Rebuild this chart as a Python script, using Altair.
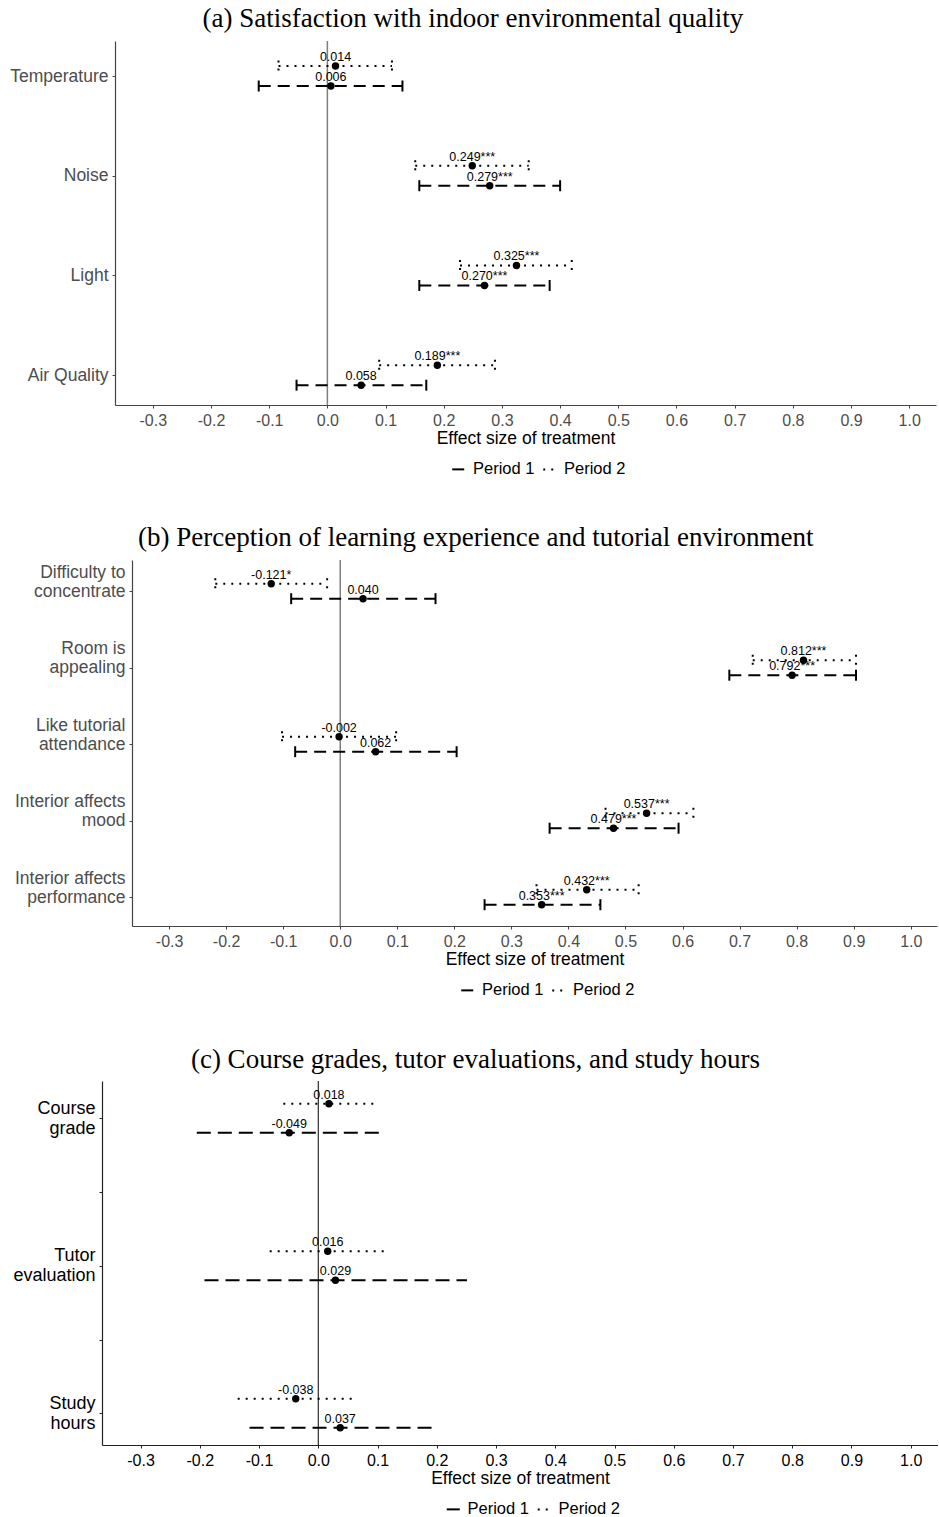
import altair as alt
import pandas as pd

PERIODS = ["Period 1", "Period 2"]

# (a) Satisfaction with indoor environmental quality
a_items = ["Temperature", "Noise", "Light", "Air Quality"]
a_p1_est = [0.006, 0.279, 0.270, 0.058]
a_p1_lo = [-0.118, 0.158, 0.158, -0.053]
a_p1_hi = [0.129, 0.400, 0.382, 0.170]
a_p1_sig = ["", "***", "***", ""]
a_p2_est = [0.014, 0.249, 0.325, 0.189]
a_p2_lo = [-0.084, 0.151, 0.228, 0.089]
a_p2_hi = [0.111, 0.346, 0.420, 0.288]
a_p2_sig = ["", "***", "***", "***"]

# (b) Perception of learning experience and tutorial environment
b_items = ["Difficulty to\nconcentrate", "Room is\nappealing", "Like tutorial\nattendance",
           "Interior affects\nmood", "Interior affects\nperformance"]
b_p1_est = [0.040, 0.792, 0.062, 0.479, 0.353]
b_p1_lo = [-0.086, 0.682, -0.079, 0.367, 0.253]
b_p1_hi = [0.167, 0.904, 0.204, 0.593, 0.456]
b_p1_sig = ["", "***", "", "***", "***"]
b_p2_est = [-0.121, 0.812, -0.002, 0.537, 0.432]
b_p2_lo = [-0.219, 0.723, -0.102, 0.465, 0.344]
b_p2_hi = [-0.023, 0.904, 0.098, 0.619, 0.523]
b_p2_sig = ["*", "***", "", "***", "***"]

# (c) Course grades, tutor evaluations, and study hours
c_items = ["Course\ngrade", "Tutor\nevaluation", "Study\nhours"]
c_slots = ["Course\ngrade", " ", "Tutor\nevaluation", "  ", "Study\nhours"]
c_p1_est = [-0.049, 0.029, 0.037]
c_p1_lo = [-0.205, -0.192, -0.116]
c_p1_hi = [0.109, 0.251, 0.192]
c_p1_sig = ["", "", ""]
c_p2_est = [0.018, 0.016, -0.038]
c_p2_lo = [-0.059, -0.082, -0.136]
c_p2_hi = [0.098, 0.118, 0.062]
c_p2_sig = ["", "", ""]

x_ticks = [-0.3, -0.2, -0.1, 0.0, 0.1, 0.2, 0.3, 0.4, 0.5, 0.6, 0.7, 0.8, 0.9, 1.0]
x_domain = [-0.365, 1.046]


def build(items, p1, p2):
    rows = []
    for period, (est, lo, hi, sig) in zip(PERIODS, (p1, p2)):
        for i, item in enumerate(items):
            rows.append({"item": item, "period": period, "est": est[i], "lo": lo[i],
                         "hi": hi[i], "label": f"{est[i]:.3f}{sig[i]}"})
    return pd.DataFrame(rows)


def panel(title, df, slots, pad, align, dodge, width, height, label_color, label_size,
          line_height, label_offset, axis_color, zero_color, zero_width, caps, dash_long):
    y = alt.Y("item:N", sort=slots,
              scale=alt.Scale(type="point", domain=slots, padding=pad, align=align),
              axis=alt.Axis(title=None, labelExpr="split(datum.label, '\\n')",
                            labelColor=label_color, labelFontSize=label_size,
                            labelLineHeight=line_height, labelOffset=label_offset,
                            labelPadding=4, tickSize=3, tickColor=axis_color,
                            domainColor=axis_color, domainWidth=1.2,
                            labelBaseline="middle", labelAlign="right", grid=False))
    yoff = alt.YOffset("period:N",
                       scale=alt.Scale(type="point", domain=["Period 2", "Period 1"],
                                       range=[-dodge, dodge], padding=0))
    xaxis = alt.Axis(values=x_ticks, title="Effect size of treatment",
                     labelExpr="(datum.value < 0 ? '-' : '') + format(abs(datum.value), '.1f')",
                     labelColor=label_color, labelFontSize=16, labelPadding=4,
                     tickSize=3, tickColor=axis_color, domainColor=axis_color,
                     domainWidth=1.2, titleFontSize=17.5, titleFontWeight="normal",
                     titleColor="black", titlePadding=1, grid=False)
    xs = alt.Scale(domain=x_domain, nice=False, zero=False)
    legend = alt.Legend(title=None, orient="none", direction="horizontal",
                        legendX=width / 2 - 75, legendY=height + 56,
                        symbolType="stroke", symbolStrokeWidth=2, symbolSize=170,
                        symbolStrokeColor="black", labelFontSize=16.5, labelColor="black",
                        labelOffset=6, columnPadding=4)
    dash = alt.StrokeDash("period:N",
                          scale=alt.Scale(domain=PERIODS, range=[dash_long, [2, 6]]),
                          legend=legend)
    base = alt.Chart(df)
    # single reference line at zero effect
    zero = base.transform_aggregate(n="count()").mark_rule(
        color=zero_color, strokeWidth=zero_width).encode(
        x=alt.X(datum=0, scale=xs, axis=xaxis))
    ci = base.mark_rule(color="black", strokeWidth=2, strokeCap="butt").encode(
        x=alt.X("lo:Q", scale=xs, axis=xaxis), x2="hi:Q", y=y, yOffset=yoff, strokeDash=dash)
    layers = [zero, ci]
    if caps:
        cap = base.transform_fold(["lo", "hi"], as_=["end", "xv"]).mark_point(
            shape="M0,-1L0,1", size=121, strokeWidth=2, color="black", filled=False,
            opacity=1, strokeCap="butt").encode(
            x=alt.X("xv:Q", scale=xs, axis=xaxis), y=y, yOffset=yoff, strokeDash=dash)
        layers.append(cap)
    pts = base.mark_point(filled=True, size=55, color="black", opacity=1).encode(
        x=alt.X("est:Q", scale=xs, axis=xaxis), y=y, yOffset=yoff)
    txt = base.mark_text(fontSize=12.5, dy=-5, baseline="alphabetic", color="black").encode(
        x=alt.X("est:Q", scale=xs, axis=xaxis), y=y, yOffset=yoff, text="label:N")
    layers += [pts, txt]
    return alt.layer(*layers).properties(
        width=width, height=height,
        title=alt.Title(title, font="Liberation Serif", fontSize=27, fontWeight="normal",
                        anchor="middle", frame="bounds", color="black", offset=7))


def row(lead, chart):
    # narrow invisible lead-in so each panel's labels start at the same left margin
    spacer = alt.Chart(pd.DataFrame({"v": [0]})).mark_point(size=0, opacity=0).properties(
        width=lead, height=1)
    return alt.hconcat(spacer, chart, spacing=0).resolve_scale(
        strokeDash="independent", yOffset="independent")


pa = panel("(a) Satisfaction with indoor environmental quality",
           build(a_items, (a_p1_est, a_p1_lo, a_p1_hi, a_p1_sig),
                 (a_p2_est, a_p2_lo, a_p2_hi, a_p2_sig)),
           a_items, 0.325, 0.54, 10, 821, 364, "#4d4d4d", 17.5, 19, 0,
           "#444444", "#7f7f7f", 1.5, True, [12, 7])
pb = panel("(b) Perception of learning experience and tutorial environment",
           build(b_items, (b_p1_est, b_p1_lo, b_p1_hi, b_p1_sig),
                 (b_p2_est, b_p2_lo, b_p2_hi, b_p2_sig)),
           b_items, 0.392, 0.52, 7.5, 805, 366, "#4d4d4d", 17.5, 19, -19,
           "#444444", "#7f7f7f", 1.5, True, [12, 7])
pc = panel("(c) Course grades, tutor evaluations, and study hours",
           build(c_items, (c_p1_est, c_p1_lo, c_p1_hi, c_p1_sig),
                 (c_p2_est, c_p2_lo, c_p2_hi, c_p2_sig)),
           c_slots, 0.468, 0.54, 14.5, 836, 364, "black", 18, 20, -10,
           "#222222", "black", 1, False, [14, 7])

chart = alt.vconcat(row(9, pa), row(14, pb), row(12, pc), spacing=46).resolve_scale(
    strokeDash="independent", yOffset="independent"
).properties(
    padding={"top": 5, "left": 0, "right": 0, "bottom": 0}
).configure(font="Liberation Sans").configure_view(stroke=None)

chart.save("out.html", embed_options={"renderer": "svg", "actions": False})
